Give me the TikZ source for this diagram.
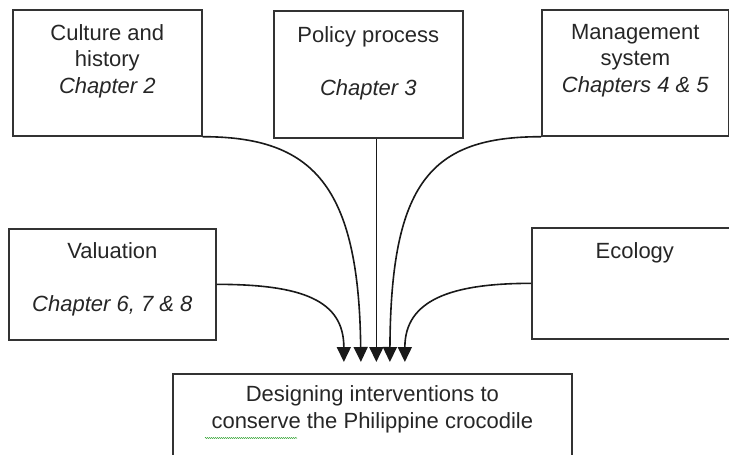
\documentclass[tikz,border=0pt]{standalone}
\usepackage{fontspec}
\setmainfont{Liberation Sans}
\usetikzlibrary{positioning, arrows.meta, decorations.pathmorphing}

\tikzset{
  box/.style={draw=black!80, line width=1.7pt, anchor=north west, inner sep=0pt},
  lbl/.style={align=center, inner sep=0pt, text=black!85, font=\fontsize{22}{26.5}\selectfont},
  feed/.style={line width=1.6pt, black!90, -{Triangle[length=15pt,width=14pt]}},
}

\begin{document}
\begin{tikzpicture}[x=1pt,y=-1pt]
        \clip (0,0) rectangle (729,455);
        % Cajas de arriba
        \node[box, minimum width=189pt, minimum height=126pt] (culture) at (12,9) {};
        \node[box, minimum width=189pt, minimum height=127pt] (policy) at (273,10) {};
        \node[box, minimum width=187pt, minimum height=126pt] (mgmt) at (541,9) {};
        % Cajas del medio
        \node[box, minimum width=207pt, minimum height=111pt] (valuation) at (8,228) {};
        \node[box, minimum width=220pt, minimum height=111pt] (ecology) at (531,227) {};
        % Caja de abajo
        \node[box, minimum width=399pt, minimum height=110pt] (design) at (172,373) {};
        % Textos
        \node[lbl, below=15pt of culture.north] (culturetxt) {Culture and\\history\\\textit{Chapter 2}};
        \node[lbl, below=16pt of policy.north] (policytxt) {Policy process\\[27pt]\textit{Chapter 3}};
        \node[lbl, below=15pt of mgmt.north] (mgmttxt) {Management\\system\\\textit{Chapters 4 \& 5}};
        \node[lbl, below=14pt of valuation.north] (valuationtxt) {Valuation\\[27pt]\textit{Chapter 6, 7 \& 8}};
        \node[lbl, below=15pt of ecology.north, xshift=-7pt] (ecologytxt) {Ecology};
        \node[lbl, below=12pt of design.north] (designtxt) {Designing interventions to\\[1pt]conserve the Philippine crocodile};
        % Corrector ortografico
        \draw[green!55!black, line width=0.5pt, decorate, decoration={snake, amplitude=0.5pt, segment length=2pt}] (205,438) -- (297,438);
        % Puntas de las flechas
        \coordinate (in1) at ([xshift=-28.5pt, yshift=11pt]design.north);
        \coordinate (in2) at ([xshift=-11.5pt, yshift=11pt]design.north);
        \coordinate (in3) at ([xshift=4pt, yshift=11pt]design.north);
        \coordinate (in4) at ([xshift=17.5pt, yshift=11pt]design.north);
        \coordinate (in5) at ([xshift=32.5pt, yshift=11pt]design.north);
        % Flechas
        \draw[feed] (valuation.east) .. controls +(85,0) and +(0,-62) .. (in1);
        \draw[feed] (culture.south east) .. controls +(110,0) and +(-2,-177) .. (in2);
        \draw[feed] ([xshift=8pt]policy.south) -- (in3);
        \draw[feed] (mgmt.south west) .. controls +(-110,0) and +(1,-180) .. (in4);
        \draw[feed] (ecology.west) .. controls +(-80,0) and +(0,-62) .. (in5);
    \end{tikzpicture}
\end{document}
